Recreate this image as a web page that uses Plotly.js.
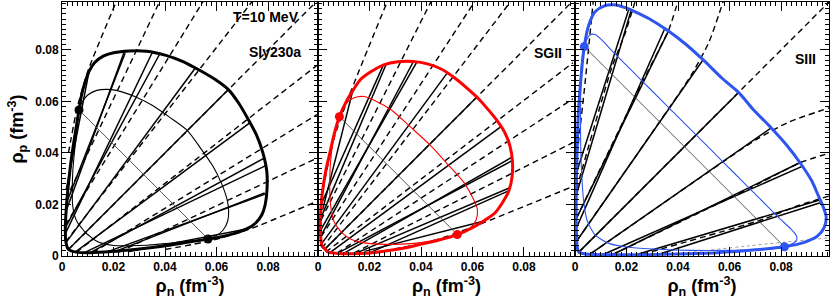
<!DOCTYPE html>
<html>
<head>
<meta charset="utf-8">
<script src="https://cdn.plot.ly/plotly-3.0.1.min.js"></script>
<style>html,body{margin:0;padding:0;background:#fff;}#chart{width:830px;height:299px;}</style>
</head>
<body>
<div id="chart"></div>
<script>
// ---------------- Panel 1 : Sly230a ----------------
const sly_bin_x = [0.0646,0.0595,0.0536,0.0470,0.0400,0.0329,0.0260,0.0200,0.0160,0.0128,0.0105,0.0088,0.0075,0.0066,0.0052,0.0038,0.0026,0.0017,0.0013,0.0015,0.0025,
                   0.0055,0.0110,0.0190,0.0290,0.0390,0.0480,0.0567,0.0620,0.0670,0.0717,0.0752,0.0776,0.0789,0.0796,0.0795,0.0780,0.0755,0.0720,0.0685,0.0646];
const sly_bin_y = [0.0646,0.0685,0.0720,0.0755,0.0780,0.0795,0.0796,0.0789,0.0776,0.0752,0.0717,0.0670,0.0620,0.0567,0.0480,0.0390,0.0290,0.0190,0.0110,0.0055,0.0025,
                   0.0015,0.0013,0.0017,0.0026,0.0038,0.0052,0.0066,0.0075,0.0088,0.0105,0.0128,0.0160,0.0200,0.0260,0.0329,0.0400,0.0470,0.0536,0.0595,0.0646];
const sly_spi_x = [0.0487,0.0420,0.0350,0.0280,0.0215,0.0173,0.0135,0.0100,0.0080,0.0066,0.0056,0.0048,0.0042,0.0040,0.0041,0.0048,0.0060,0.0077,0.0091,
                   0.0108,0.0130,0.0160,0.0200,0.0260,0.0330,0.0400,0.0470,0.0567,0.0600,0.0625,0.0643,0.0647,0.0642,0.0620,0.0585,0.0537,0.0487];
const sly_spi_y = [0.0487,0.0537,0.0585,0.0620,0.0642,0.0647,0.0643,0.0625,0.0600,0.0567,0.0470,0.0400,0.0330,0.0260,0.0200,0.0160,0.0130,0.0108,0.0091,
                   0.0077,0.0060,0.0048,0.0041,0.0040,0.0042,0.0048,0.0056,0.0066,0.0080,0.0100,0.0135,0.0173,0.0215,0.0280,0.0350,0.0420,0.0487];
const sly_crit_x = [0.0066, 0.0567];
const sly_crit_y = [0.0567, 0.0066];
const sly_tie_gx = [0.0016,0.0015,0.0014,0.0013,0.0012,0.0014,0.0025, 0.0256,0.0200,0.0170,0.0110,0.0085,0.0050];
const sly_tie_gy = [0.0256,0.0200,0.0170,0.0110,0.0085,0.0050,0.0025, 0.0016,0.0015,0.0014,0.0013,0.0012,0.0014];
const sly_tie_lx = [0.0105,0.0245,0.0240,0.0381,0.0350,0.0517,0.0646, 0.0717,0.0787,0.0788,0.0787,0.0789,0.0729];
const sly_tie_ly = [0.0717,0.0787,0.0788,0.0787,0.0789,0.0729,0.0646, 0.0105,0.0245,0.0240,0.0381,0.0350,0.0517];
const sly_dash_x = [[0.0025,0.0060,0.0105,0.0212],[0.0015,0.0380],[0.0013,0.0549],[0.0014,0.0740],[0.0025,0.1000],
                    [0.0400,0.0580,0.0730,0.0990],[0.0220,0.0990],[0.0120,0.0990],[0.0055,0.0990]];
const sly_dash_y = [[0.0400,0.0580,0.0730,0.0990],[0.0220,0.0990],[0.0120,0.0990],[0.0055,0.0990],[0.0025,0.1000],
                    [0.0025,0.0060,0.0105,0.0212],[0.0015,0.0380],[0.0013,0.0549],[0.0014,0.0740]];

// ---------------- Panel 2 : SGII ----------------
const sg_bin_x = [0.0617,0.0575,0.0530,0.0480,0.0425,0.0370,0.0310,0.0255,0.0205,0.0165,0.0137,0.0110,0.0083,0.0062,0.0046,0.0032,0.0022,0.0014,0.0010,0.0010,0.0015,0.0027,
                  0.0040,0.0080,0.0160,0.0220,0.0282,0.0340,0.0400,0.0470,0.0541,0.0600,0.0645,0.0685,0.0715,0.0742,0.0754,0.0755,0.0746,0.0725,0.0692,0.0655,0.0617];
const sg_bin_y = [0.0617,0.0655,0.0692,0.0725,0.0746,0.0755,0.0754,0.0742,0.0715,0.0685,0.0645,0.0600,0.0541,0.0470,0.0400,0.0340,0.0282,0.0220,0.0160,0.0080,0.0040,0.0027,
                  0.0015,0.0010,0.0010,0.0014,0.0022,0.0032,0.0046,0.0062,0.0083,0.0110,0.0137,0.0165,0.0205,0.0255,0.0310,0.0370,0.0425,0.0480,0.0530,0.0575,0.0617];
const sg_spi_x = [0.0433,0.0360,0.0285,0.0222,0.0180,0.0140,0.0108,0.0083,0.0065,0.0052,0.0046,0.0046,0.0052,0.0064,0.0078,0.0092,
                  0.0108,0.0130,0.0175,0.0240,0.0320,0.0400,0.0476,0.0541,0.0590,0.0614,0.0619,0.0603,0.0567,0.0500,0.0433];
const sg_spi_y = [0.0433,0.0500,0.0567,0.0603,0.0619,0.0614,0.0590,0.0541,0.0476,0.0400,0.0320,0.0240,0.0175,0.0130,0.0108,0.0092,
                  0.0078,0.0064,0.0052,0.0046,0.0046,0.0052,0.0065,0.0083,0.0108,0.0140,0.0180,0.0222,0.0285,0.0360,0.0433];
const sg_crit_x = [0.0083, 0.0541];
const sg_crit_y = [0.0541, 0.0083];
const sg_tie_gx = [0.0018,0.0012,0.0012,0.0010,0.0010,0.0012,0.0027, 0.0180,0.0200,0.0150,0.0100,0.0075,0.0045];
const sg_tie_gy = [0.0180,0.0200,0.0150,0.0100,0.0075,0.0045,0.0027, 0.0018,0.0012,0.0012,0.0010,0.0010,0.0012];
const sg_tie_lx = [0.0137,0.0254,0.0265,0.0383,0.0370,0.0500,0.0617, 0.0650,0.0742,0.0745,0.0752,0.0754,0.0708];
const sg_tie_ly = [0.0650,0.0742,0.0745,0.0752,0.0754,0.0708,0.0617, 0.0137,0.0254,0.0265,0.0383,0.0370,0.0500];
const sg_dash_x = [[0.0012,0.0060,0.0120,0.0270],[0.0012,0.0440],[0.0012,0.0610],[0.0015,0.0750],[0.0027,0.1000],
                   [0.0220,0.0450,0.0620,0.0990],[0.0140,0.0990],[0.0075,0.0990],[0.0030,0.0990]];
const sg_dash_y = [[0.0220,0.0450,0.0620,0.0990],[0.0140,0.0990],[0.0075,0.0990],[0.0030,0.0990],[0.0027,0.1000],
                   [0.0012,0.0060,0.0120,0.0270],[0.0012,0.0440],[0.0012,0.0610],[0.0015,0.0750]];

// ---------------- Panel 3 : SIII ----------------
const s3_bin_x = [0.0635,0.0571,0.0498,0.0430,0.0360,0.0290,0.0240,0.0195,0.0151,0.0112,0.0078,0.0053,0.0036,0.0024,0.0013,0.0008,0.0005,0.0005,0.0008,0.0015,
                  0.0040,0.0120,0.0250,0.0400,0.0550,0.0700,0.0813,0.0890,0.0942,0.0968,0.0975,0.0962,0.0942,0.0920,0.0875,0.0822,0.0761,0.0690,0.0635];
const s3_bin_y = [0.0635,0.0690,0.0761,0.0822,0.0875,0.0920,0.0945,0.0964,0.0975,0.0970,0.0948,0.0895,0.0813,0.0700,0.0550,0.0400,0.0250,0.0120,0.0040,0.0015,
                  0.0008,0.0005,0.0005,0.0008,0.0013,0.0024,0.0036,0.0053,0.0078,0.0112,0.0151,0.0195,0.0240,0.0290,0.0360,0.0430,0.0498,0.0571,0.0635];
const s3_spi_x = [0.0470,0.0400,0.0330,0.0255,0.0190,0.0145,0.0105,0.0078,0.0058,0.0036,0.0025,0.0022,0.0022,0.0026,0.0034,0.0048,0.0080,
                  0.0135,0.0210,0.0320,0.0450,0.0600,0.0740,0.0813,0.0858,0.0860,0.0838,0.0795,0.0750,0.0685,0.0610,0.0540,0.0470];
const s3_spi_y = [0.0470,0.0540,0.0610,0.0685,0.0750,0.0795,0.0838,0.0860,0.0858,0.0813,0.0740,0.0600,0.0450,0.0320,0.0210,0.0135,0.0080,
                  0.0048,0.0034,0.0026,0.0022,0.0022,0.0025,0.0036,0.0058,0.0078,0.0105,0.0145,0.0190,0.0255,0.0330,0.0400,0.0470];
const s3_crit_x = [0.0036, 0.0813];
const s3_crit_y = [0.0813, 0.0036];
const s3_tie_gx = [0.0005,0.0006,0.0005,0.0006,0.0008,0.0015, 0.0320,0.0240,0.0145,0.0110,0.0060];
const s3_tie_gy = [0.0320,0.0240,0.0145,0.0110,0.0060,0.0015, 0.0005,0.0006,0.0005,0.0006,0.0008];
const s3_tie_lx = [0.0208,0.0218,0.0365,0.0350,0.0496,0.0635, 0.0955,0.0953,0.0878,0.0886,0.0760];
const s3_tie_ly = [0.0955,0.0953,0.0878,0.0886,0.0760,0.0635, 0.0208,0.0218,0.0365,0.0350,0.0496];
const s3_dash_x = [[0.0000,0.0039,0.0071],[0.0006,0.0144,0.0195,0.0234],[0.0005,0.0260,0.0364,0.0400],[0.0008,0.0300,0.0450,0.0520,0.0576],[0.0015,0.1000],
                   [0.0260,0.0735,0.0865,0.0990],[0.0145,0.0672,0.0878,0.0990],[0.0060,0.0480,0.0700,0.0830,0.0990]];
const s3_dash_y = [[0.0320,0.0670,0.0990],[0.0260,0.0735,0.0865,0.0990],[0.0145,0.0672,0.0878,0.0990],[0.0060,0.0480,0.0700,0.0830,0.0990],[0.0015,0.1000],
                   [0.0006,0.0144,0.0195,0.0234],[0.0005,0.0260,0.0364,0.0400],[0.0008,0.0300,0.0450,0.0520,0.0576]];
const s3_dot_x = [0.0320,0.0670,0.0990];
const s3_dot_y = [0.0000,0.0039,0.0071];

// tick values / labels
const tick_vals = [0, 0.02, 0.04, 0.06, 0.08];
const tick_text = ['0', '0.02', '0.04', '0.06', '0.08'];
const panel_labels = ['Sly230a', 'SGII', 'SIII'];

// --------------- build traces -----------------
const FONT = 'Liberation Sans, Arial, Helvetica, sans-serif';
const traces = [];
function segs(gx, gy, lx, ly) {
  const X = [], Y = [];
  for (let i = 0; i < gx.length; i++) { X.push(gx[i], lx[i], null); Y.push(gy[i], ly[i], null); }
  return [X, Y];
}
function addPanel(ax, ay, color, bx, by, sx, sy, cx, cy, tgx, tgy, tlx, tly, dx, dy) {
  for (let i = 0; i < dx.length; i++) {
    traces.push({type:'scatter', mode:'lines', x:dx[i], y:dy[i], xaxis:ax, yaxis:ay,
      line:{color:'#000', width:1.4, dash:'6px,4px', shape:'spline', smoothing:0.6}, hoverinfo:'skip', showlegend:false});
  }
  const t = segs(tgx, tgy, tlx, tly);
  traces.push({type:'scatter', mode:'lines', x:t[0], y:t[1], xaxis:ax, yaxis:ay,
    line:{color:'#000', width:1.5}, hoverinfo:'skip', showlegend:false});
  traces.push({type:'scatter', mode:'lines', x:sx, y:sy, xaxis:ax, yaxis:ay,
    line:{color:color, width:1.1, shape:'spline', smoothing:0.7}, hoverinfo:'skip', showlegend:false});
  traces.push({type:'scatter', mode:'lines', x:cx, y:cy, xaxis:ax, yaxis:ay,
    line:{color:'#444', width:0.9}, hoverinfo:'skip', showlegend:false});
  traces.push({type:'scatter', mode:'lines', x:bx, y:by, xaxis:ax, yaxis:ay,
    line:{color:color, width:3, shape:'spline', smoothing:0.7}, hoverinfo:'skip', showlegend:false});
  traces.push({type:'scatter', mode:'markers', x:cx, y:cy, xaxis:ax, yaxis:ay,
    marker:{color:color, size:9}, hoverinfo:'skip', showlegend:false});
}
addPanel('x','y','#000000', sly_bin_x, sly_bin_y, sly_spi_x, sly_spi_y, sly_crit_x, sly_crit_y, sly_tie_gx, sly_tie_gy, sly_tie_lx, sly_tie_ly, sly_dash_x, sly_dash_y);
addPanel('x2','y2','#ff0000', sg_bin_x, sg_bin_y, sg_spi_x, sg_spi_y, sg_crit_x, sg_crit_y, sg_tie_gx, sg_tie_gy, sg_tie_lx, sg_tie_ly, sg_dash_x, sg_dash_y);
traces.push({type:'scatter', mode:'lines', x:s3_dot_x, y:s3_dot_y, xaxis:'x3', yaxis:'y3',
  line:{color:'#999', width:1, dash:'dot', shape:'spline'}, hoverinfo:'skip', showlegend:false});
addPanel('x3','y3','#2f55f0', s3_bin_x, s3_bin_y, s3_spi_x, s3_spi_y, s3_crit_x, s3_crit_y, s3_tie_gx, s3_tie_gy, s3_tie_lx, s3_tie_ly, s3_dash_x, s3_dash_y);

// --------------- axes -----------------
function axis(extra) {
  return Object.assign({
    showline:true, linecolor:'#000', linewidth:1, mirror:'ticks',
    ticks:'inside', ticklen:9, tickwidth:1, tickcolor:'#000',
    tickvals:tick_vals, ticktext:tick_text,
    minor:{ticks:'inside', ticklen:4, dtick:0.002, tick0:0, tickcolor:'#000', tickwidth:1, showgrid:false},
    showgrid:false, zeroline:false, fixedrange:true,
    tickfont:{family:FONT, size:12, color:'#000', weight:'bold'}
  }, extra);
}
const xtitle = {text:'ρ<sub>n</sub> (fm<sup>-3</sup>)', font:{family:FONT, size:18, color:'#000', weight:'bold'}, standoff:4};
const layout = {
  width:830, height:299,
  margin:{l:62, r:1, t:2, b:43},
  paper_bgcolor:'#fff', plot_bgcolor:'#fff',
  showlegend:false,
  xaxis: axis({domain:[0, 0.3338], range:[0, 0.0994], anchor:'y', title:xtitle}),
  xaxis2:axis({domain:[0.3338, 0.6688], range:[0, 0.0998], anchor:'y2', title:xtitle}),
  xaxis3:axis({domain:[0.6688, 1], range:[0, 0.0986], anchor:'y3', title:xtitle}),
  yaxis: axis({range:[0, 0.0986], anchor:'x', title:{text:'ρ<sub>p</sub> (fm<sup>-3</sup>)', font:{family:FONT, size:18, color:'#000', weight:'bold'}, standoff:6}}),
  yaxis2:axis({range:[0, 0.0986], anchor:'x2', showticklabels:false}),
  yaxis3:axis({range:[0, 0.0986], anchor:'x3', showticklabels:false}),
  annotations:[
    {xref:'x', yref:'y', x:0.0792, y:0.0928, text:'T=10 MeV', showarrow:false, font:{family:FONT, size:14, color:'#000', weight:'bold'}},
    {xref:'x', yref:'y', x:0.0827, y:0.0792, text:panel_labels[0], showarrow:false, font:{family:FONT, size:14, color:'#000', weight:'bold'}},
    {xref:'x2', yref:'y2', x:0.0893, y:0.0788, text:panel_labels[1], showarrow:false, font:{family:FONT, size:14, color:'#000', weight:'bold'}},
    {xref:'x3', yref:'y3', x:0.0893, y:0.0766, text:panel_labels[2], showarrow:false, font:{family:FONT, size:14, color:'#000', weight:'bold'}}
  ]
};
Plotly.newPlot('chart', traces, layout, {staticPlot:true, displayModeBar:false});
</script>
</body>
</html>
